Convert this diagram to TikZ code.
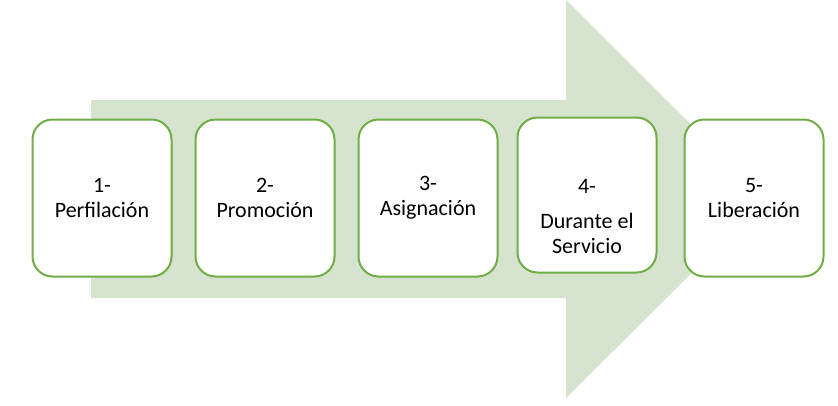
\documentclass[tikz,border=0pt]{standalone}
\usepackage{fontspec}
\setmainfont{Carlito}
\usepackage{tikz}

\definecolor{arrowfill}{RGB}{214,227,207}
\definecolor{boxline}{RGB}{112,173,71}

\tikzset{
  phasebox/.style={draw=boxline,line width=2pt,fill=white,rounded corners=20pt,
    minimum width=139pt,minimum height=157pt,inner sep=0pt,align=center,
    font=\fontsize{22}{25}\selectfont},
  phasetext/.style={align=center,inner sep=0pt,font=\fontsize{22}{25}\selectfont}
}

\begin{document}
\begin{tikzpicture}[x=1pt,y=-1pt]
      \useasboundingbox (0,0) rectangle (838,405);

      \coordinate (tail-top)  at (91,100);
      \coordinate (neck-top)  at (566,100);
      \coordinate (head-top)  at (566,0);
      \coordinate (head-tip)  at (766,199);
      \coordinate (head-bot)  at (566,398);
      \coordinate (neck-bot)  at (566,298);
      \coordinate (tail-bot)  at (91,298);

      \fill[arrowfill] (tail-top) -- (neck-top) -- (head-top) -- (head-tip)
        -- (head-bot) -- (neck-bot) -- (tail-bot) -- cycle;

      \node[phasebox] (phase-1) at (102,198) {1-\\Perfilación};
      \node[phasebox] (phase-2) at (265,198) {2-\\Promoción};
      \node[phasebox] (phase-3) at (428,198) {3-\\Asignación};
      \node[phasebox,minimum height=155pt] (phase-4) at (587,195) {};
      \node[phasetext] (text-4) at (587,217) {4-\\[10pt]Durante el\\Servicio};
      \node[phasebox] (phase-5) at (754,198) {5-\\Liberación};
    \end{tikzpicture}
\end{document}
